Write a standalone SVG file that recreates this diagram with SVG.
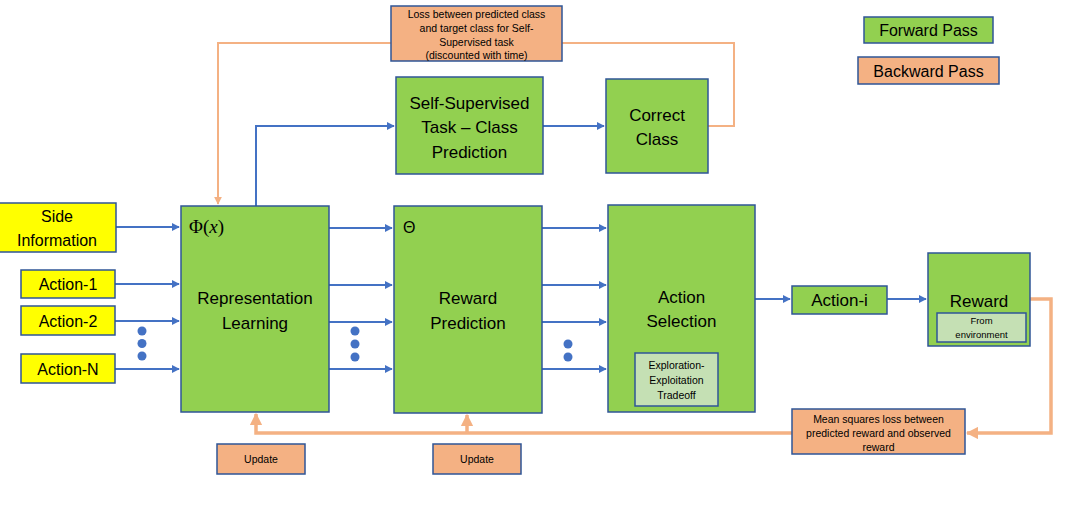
<svg xmlns="http://www.w3.org/2000/svg" width="1068" height="510" viewBox="0 0 1068 510">
<style>
text{font-family:"Liberation Sans",Arial,sans-serif;fill:#000;text-anchor:middle}
.g{fill:#92d050;stroke:#2f5597;stroke-width:1.5}
.y{fill:#ffff00;stroke:#2f5597;stroke-width:1.5}
.o{fill:#f4b183;stroke:#2f5597;stroke-width:1.5}
.lg{fill:#c5e0b4;stroke:#2f5597;stroke-width:1.5}
.b{fill:none;stroke:#4472c4;stroke-width:2}
.bk{fill:none;stroke:#f4b183;stroke-width:3.5}
.bk2{fill:none;stroke:#f4b183;stroke-width:2}
.t17{font-size:17px}
.t16{font-size:16px}
.sm{font-size:10.5px}
.dot{fill:#4472c4}
</style>
<defs>
<marker id="ab" viewBox="0 0 10 10" refX="9" refY="5" markerWidth="4" markerHeight="4" orient="auto"><path d="M0,0L10,5L0,10z" fill="#4472c4"/></marker>
<marker id="ao" viewBox="0 0 10 10" refX="9" refY="5" markerWidth="3.5" markerHeight="3.5" orient="auto"><path d="M0,0L10,5L0,10z" fill="#f4b183"/></marker>
<marker id="ao2" viewBox="0 0 10 10" refX="9" refY="5" markerWidth="4" markerHeight="4" orient="auto"><path d="M0,0L10,5L0,10z" fill="#f4b183"/></marker>
</defs>
<g id="connectors">
<path class="bk2" d="M391,43H218V204" marker-end="url(#ao2)"/>
<path class="bk2" d="M562,43H734V126H708"/>
<path class="b" d="M256,206V126H394" marker-end="url(#ab)"/>
<path class="b" d="M543,126H604" marker-end="url(#ab)"/>
<path class="b" d="M116,227H179" marker-end="url(#ab)"/>
<path class="b" d="M115,284H179" marker-end="url(#ab)"/>
<path class="b" d="M115,321H179" marker-end="url(#ab)"/>
<path class="b" d="M115,369H179" marker-end="url(#ab)"/>
<path class="b" d="M329,228H392" marker-end="url(#ab)"/>
<path class="b" d="M329,285H392" marker-end="url(#ab)"/>
<path class="b" d="M329,322H392" marker-end="url(#ab)"/>
<path class="b" d="M329,369H392" marker-end="url(#ab)"/>
<path class="b" d="M542,228H606" marker-end="url(#ab)"/>
<path class="b" d="M542,285H606" marker-end="url(#ab)"/>
<path class="b" d="M542,322H606" marker-end="url(#ab)"/>
<path class="b" d="M542,369H606" marker-end="url(#ab)"/>
<path class="b" d="M755,299H790" marker-end="url(#ab)"/>
<path class="b" d="M887,299H926" marker-end="url(#ab)"/>
<path class="bk" d="M1030,299H1051V433H967" marker-end="url(#ao)"/>
<path class="bk" d="M792,433H256V414" marker-end="url(#ao)"/>
<path class="bk" d="M467,433V415" marker-end="url(#ao)"/>
<circle class="dot" cx="142" cy="331" r="4.5"/><circle class="dot" cx="142" cy="343.5" r="4.5"/><circle class="dot" cx="142" cy="356" r="4.5"/>
<circle class="dot" cx="355" cy="331" r="4.5"/><circle class="dot" cx="355" cy="344" r="4.5"/><circle class="dot" cx="355" cy="357" r="4.5"/>
<circle class="dot" cx="568" cy="344" r="4.5"/><circle class="dot" cx="568" cy="357" r="4.5"/>
</g>
<g id="loss-class"><rect class="o" x="391" y="6" width="171" height="55"/>
<text class="sm" x="476.5" y="18">Loss between predicted class</text>
<text class="sm" x="476.5" y="32">and target class for Self-</text>
<text class="sm" x="476.5" y="46">Supervised task</text>
<text class="sm" x="476.5" y="59">(discounted with time)</text></g>
<g id="forward-pass"><rect class="g" x="864" y="17" width="129" height="26"/><text class="t16" x="928.5" y="36">Forward Pass</text></g>
<g id="backward-pass"><rect class="o" x="858" y="57" width="141" height="27"/><text class="t16" x="928.5" y="77">Backward Pass</text></g>
<g id="self-supervised"><rect class="g" x="396" y="77" width="147" height="97"/>
<text class="t17" x="469.5" y="109">Self-Supervised</text>
<text class="t17" x="469.5" y="133">Task – Class</text>
<text class="t17" x="469.5" y="158">Prediction</text></g>
<g id="correct-class"><rect class="g" x="606" y="79" width="102" height="94"/>
<text class="t17" x="657" y="121">Correct</text>
<text class="t17" x="657" y="145">Class</text></g>
<g id="side-info"><rect class="y" x="-1" y="203" width="117" height="49"/>
<text class="t16" x="57" y="222">Side</text>
<text class="t16" x="57" y="246">Information</text></g>
<g id="action-1"><rect class="y" x="21" y="270" width="94" height="28"/><text class="t16" x="68" y="290">Action-1</text></g>
<g id="action-2"><rect class="y" x="21" y="306" width="94" height="29"/><text class="t16" x="68" y="327">Action-2</text></g>
<g id="action-n"><rect class="y" x="21" y="354" width="94" height="29"/><text class="t16" x="68" y="375">Action-N</text></g>
<g id="representation"><rect class="g" x="181" y="206" width="148" height="206"/>
<text x="189" y="233" style="font-family:'Liberation Serif','DejaVu Serif',serif;font-size:19px;text-anchor:start">Φ(<tspan font-style="italic">x</tspan>)</text>
<text class="t17" x="255" y="304">Representation</text>
<text class="t17" x="255" y="329">Learning</text></g>
<g id="reward-prediction"><rect class="g" x="394" y="206" width="148" height="207"/>
<text x="403" y="233" style="font-size:16px;text-anchor:start">Θ</text>
<text class="t17" x="468" y="304">Reward</text>
<text class="t17" x="468" y="329">Prediction</text></g>
<g id="action-selection"><rect class="g" x="608" y="205" width="147" height="207"/>
<text class="t17" x="681.5" y="303">Action</text>
<text class="t17" x="681.5" y="327">Selection</text>
<rect class="lg" x="635" y="353" width="83" height="53"/>
<text class="sm" x="676.5" y="369">Exploration-</text>
<text class="sm" x="676.5" y="384">Exploitation</text>
<text class="sm" x="676.5" y="399">Tradeoff</text></g>
<g id="action-i"><rect class="g" x="792" y="286" width="95" height="28"/><text class="t17" x="839.5" y="306">Action-i</text></g>
<g id="reward"><rect class="g" x="928" y="253" width="102" height="93"/>
<text class="t17" x="979" y="307">Reward</text>
<rect class="lg" x="937" y="313" width="89" height="29"/>
<text style="font-size:9.5px" x="981.5" y="324">From</text>
<text style="font-size:9.5px" x="981.5" y="338">environment</text></g>
<g id="mse-loss"><rect class="o" x="792" y="409" width="173" height="45"/>
<text class="sm" x="878.5" y="423">Mean squares loss between</text>
<text class="sm" x="878.5" y="437">predicted reward and observed</text>
<text class="sm" x="878.5" y="451">reward</text></g>
<g id="update-1"><rect class="o" x="217" y="444" width="88" height="30"/><text class="sm" x="261" y="463">Update</text></g>
<g id="update-2"><rect class="o" x="433" y="444" width="88" height="30"/><text class="sm" x="477" y="463">Update</text></g>
</svg>
